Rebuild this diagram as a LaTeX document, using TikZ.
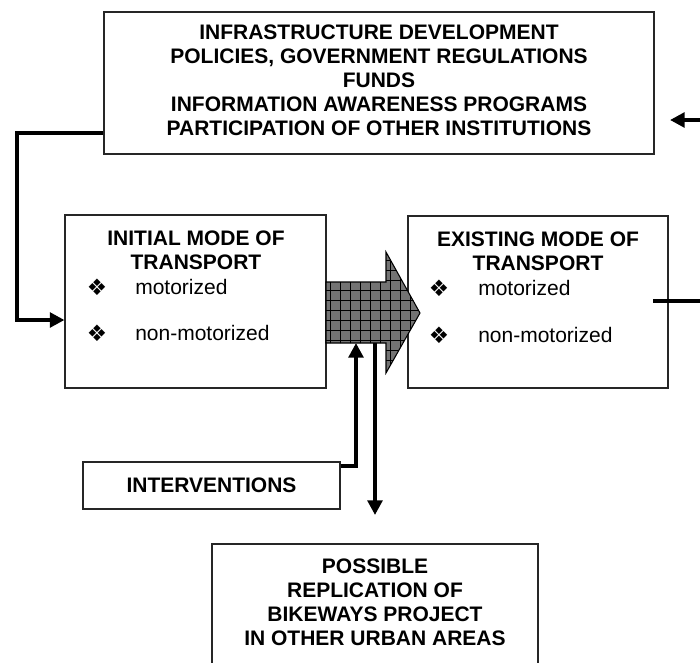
\documentclass[tikz,border=0pt]{standalone}
\usepackage{fontspec}
\setmainfont{Liberation Sans}
\newfontfamily\dingfont{DejaVu Sans}
\usepackage{tikz}
\usetikzlibrary{arrows.meta,positioning,calc}

\newcommand{\Bul}{{\dingfont\fontsize{17}{17}\selectfont ❖}}

\begin{document}
\begin{tikzpicture}[x=0.75pt,y=-0.75pt]
  \tikzstyle{Box}=[draw=black!85, line width=0.8pt, rectangle, inner sep=0pt]
  \tikzstyle{Title}=[font=\fontsize{15.75}{18}\selectfont\bfseries, align=center, inner sep=0pt]
  \tikzstyle{Item}=[font=\fontsize{15.75}{18}\selectfont, anchor=west, inner sep=0pt]
  \tikzstyle{Mark}=[inner sep=0pt]
  \tikzstyle{EdgeStyle}=[line width=3pt, -{Triangle[length=11pt,width=11pt]}]

  \clip (0,0) rectangle (700,662);

  \node[Box, minimum width=412.5pt, minimum height=106.5pt] (top) at (379,83) {};
  \node[Title] (topT) at (379,80) {INFRASTRUCTURE DEVELOPMENT\\POLICIES, GOVERNMENT REGULATIONS\\FUNDS\\INFORMATION AWARENESS PROGRAMS\\PARTICIPATION OF OTHER INSTITUTIONS};

  \node[Box, minimum width=195.75pt, minimum height=129.75pt] (init) at (195.5,301.5) {};
  \node[Title] (initT) at (196,250) {INITIAL MODE OF\\TRANSPORT};
  \node[Mark] (initM1) at (97,287) {\Bul};
  \node[Item] (initA) at (135,287) {motorized};
  \node[Mark] (initM2) at (97,333) {\Bul};
  \node[Item] (initB) at (135,333) {non-motorized};

  \node[Box, minimum width=195pt, minimum height=129pt] (exist) at (538,302) {};
  \node[Title] (existT) at (538,251.5) {EXISTING MODE OF\\TRANSPORT};
  \node[Mark] (existM1) at (439,288) {\Bul};
  \node[Item] (existA) at (478,288) {motorized};
  \node[Mark] (existM2) at (439,335) {\Bul};
  \node[Item] (existB) at (478,335) {non-motorized};

  \node[Box, Title, minimum width=192.75pt, minimum height=35.25pt] (interv) at (211.5,485.5) {INTERVENTIONS};

  \node[Box, minimum width=244.5pt, minimum height=120pt] (repl) at (375,624) {};
  \node[Title] (replT) at (375,602.5) {POSSIBLE\\REPLICATION OF\\BIKEWAYS PROJECT\\IN OTHER URBAN AREAS};

  \filldraw[fill=black!55, draw=black, line width=0.8pt,
    path picture={\draw[black, line width=0.5pt, step=7.5pt] (320,240) grid (430,380);}]
    (326,282) -- (386,282) -- (386,252) -- (420,313) -- (386,373) -- (386,343) -- (326,343) -- cycle;
  \coordinate (bigL) at (356,343);
  \coordinate (bigR) at (375,343);

  \coordinate (bend) at (17,133);
  \coordinate (offA) at (705,120);
  \coordinate (tipA) at (670,120);
  \coordinate (exR) at (653,301);
  \coordinate (offB) at (705,301);

  \draw[EdgeStyle] (top.west |- bend) -- (bend) -- (bend |- 0,320) -- (init.west |- 0,320);
  \draw[EdgeStyle] (offA) -- (tipA);
  \draw[line width=3pt] (exR) -- (offB);
  \draw[EdgeStyle] (interv.east |- 0,466) -| (bigL);
  \draw[EdgeStyle] (bigR) -- (repl.north |- 0,515);

\end{tikzpicture}
\end{document}
